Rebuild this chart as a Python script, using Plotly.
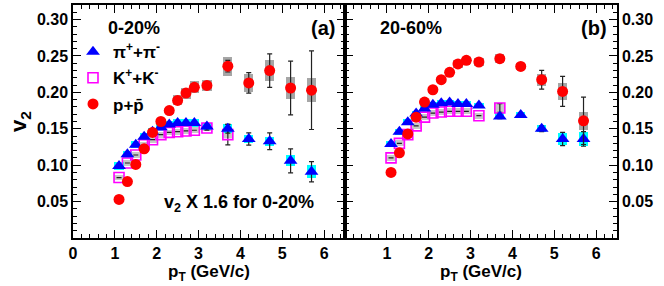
import plotly.graph_objects as go

pt = [1.1, 1.3, 1.5, 1.7, 1.9, 2.1, 2.3, 2.5, 2.7, 2.9, 3.2, 3.7, 4.2, 4.7, 5.2, 5.7]
pt_k = [1.1, 1.3, 1.5, 1.7, 1.9, 2.1, 2.3, 2.5, 2.7, 2.9, 3.2, 3.7]

# 0-20% (v2 x 1.6)
pi_c = [0.099, 0.115, 0.128, 0.139, 0.146, 0.152, 0.156, 0.158, 0.158, 0.158, 0.153, 0.150, 0.136, 0.133, 0.106, 0.091]
pi_c_err = [0.002, 0.002, 0.002, 0.002, 0.002, 0.002, 0.002, 0.002, 0.002, 0.002, 0.003, 0.006, 0.0085, 0.0115, 0.0165, 0.014]
pi_c_sys = [0.005, 0.005, 0.005, 0.005, 0.005, 0.005, 0.005, 0.005, 0.005, 0.005, 0.005, 0.006, 0.005, 0.006, 0.0076, 0.0087]
k_c = [0.083, 0.103, 0.114, 0.128, 0.135, 0.142, 0.145, 0.146, 0.147, 0.148, 0.151, 0.142]
k_c_err = [0, 0, 0, 0, 0, 0, 0, 0, 0, 0, 0.003, 0.014]
k_c_sys = [0.004, 0.004, 0.004, 0.004, 0.004, 0.004, 0.004, 0.004, 0.004, 0.004, 0.004, 0.005]
p_c = [0.053, 0.0775, 0.101, 0.1225, 0.145, 0.160, 0.175, 0.189, 0.199, 0.207, 0.2096, 0.236, 0.213, 0.230, 0.206, 0.203]
p_c_err = [0.002, 0.002, 0.002, 0.002, 0.002, 0.002, 0.002, 0.003, 0.003, 0.003, 0.004, 0.008, 0.014, 0.023, 0.037, 0.054]
p_c_sys = [0.003, 0.003, 0.003, 0.004, 0.004, 0.004, 0.005, 0.007, 0.0075, 0.008, 0.008, 0.013, 0.0125, 0.014, 0.0145, 0.0165]

# 20-60%
pi_p = [0.129, 0.146, 0.159, 0.171, 0.178, 0.183, 0.185, 0.186, 0.184, 0.184, 0.182, 0.167, 0.169, 0.150, 0.136, 0.136]
pi_p_err = [0.001, 0.001, 0.001, 0.001, 0.001, 0.001, 0.001, 0.001, 0.001, 0.001, 0.002, 0.003, 0.003, 0.004, 0.009, 0.010]
pi_p_sys = [0.004, 0.004, 0.004, 0.004, 0.004, 0.004, 0.004, 0.004, 0.004, 0.004, 0.004, 0.004, 0.004, 0.005, 0.008, 0.009]
k_p = [0.110, 0.130, 0.142, 0.154, 0.166, 0.1716, 0.173, 0.174, 0.174, 0.174, 0.168, 0.1785]
k_p_err = [0, 0, 0, 0, 0, 0, 0, 0, 0, 0, 0, 0.006]
k_p_sys = [0.004, 0.004, 0.004, 0.004, 0.004, 0.004, 0.004, 0.004, 0.004, 0.004, 0.004, 0.007]
p_p = [0.090, 0.117, 0.143, 0.166, 0.1867, 0.2036, 0.2174, 0.2275, 0.239, 0.244, 0.2417, 0.2463, 0.2357, 0.2174, 0.2013, 0.161]
p_p_err = [0.001, 0.001, 0.001, 0.001, 0.001, 0.001, 0.001, 0.002, 0.002, 0.002, 0.002, 0.004, 0.004, 0.0128, 0.0206, 0.0326]
p_p_sys = [0.003, 0.003, 0.003, 0.003, 0.004, 0.004, 0.004, 0.005, 0.005, 0.005, 0.005, 0.006, 0.005, 0.008, 0.012, 0.012]

x_ticks_left = [0, 1, 2, 3, 4, 5, 6]
x_ticks_right = [1, 2, 3, 4, 5, 6]
y_ticks = [0.05, 0.10, 0.15, 0.20, 0.25, 0.30]
y_labels = ["0.05", "0.10", "0.15", "0.20", "0.25", "0.30"]

FONT = "Liberation Sans, Arial, sans-serif"
BOXW = 0.22

fig = go.Figure()


def sys_boxes(x, v, s, color, xa, ya, group):
    fig.add_trace(go.Bar(
        x=x, y=[2 * e for e in s], base=[a - e for a, e in zip(v, s)], width=BOXW,
        marker=dict(color=color, line=dict(width=0)), xaxis=xa, yaxis=ya,
        showlegend=False, legendgroup=group, hoverinfo="skip"))


def points(x, v, err, name, marker, xa, ya, group, show):
    fig.add_trace(go.Scatter(
        x=x, y=v, mode="markers", name=name, legendgroup=group, showlegend=show,
        marker=marker, xaxis=xa, yaxis=ya,
        error_y=dict(type="data", array=err, color="#222222", thickness=1.2, width=2.5)))


m_pi = dict(symbol="triangle-up", size=12, color="#0000ff", line=dict(width=0))
m_k = dict(symbol="square-open", size=10, color="#ff00ff", line=dict(width=1.6, color="#ff00ff"))
m_p = dict(symbol="circle", size=11, color="#ff0000", line=dict(width=0))

for xa, ya, pic, pie, pis, kc, ke, ks, pc, pe, ps in [
    ("x", "y", pi_c, pi_c_err, pi_c_sys, k_c, k_c_err, k_c_sys, p_c, p_c_err, p_c_sys),
    ("x2", "y2", pi_p, pi_p_err, pi_p_sys, k_p, k_p_err, k_p_sys, p_p, p_p_err, p_p_sys),
]:
    sys_boxes(pt_k, kc, ks, "#c8c8c8", xa, ya, "k")
    points(pt_k, kc, ke, "K<sup>+</sup>+K<sup>-</sup>", m_k, xa, ya, "k", False)
    sys_boxes(pt, pic, pis, "#00ffff", xa, ya, "pi")
    points(pt, pic, pie, "π<sup>+</sup>+π<sup>-</sup>", m_pi, xa, ya, "pi", False)
    sys_boxes(pt, pc, ps, "#a6a6a6", xa, ya, "p")
    points(pt, pc, pe, "p+p\u0304", m_p, xa, ya, "p", False)

# legend entries in the reference order
for name, mk, grp in [("π<sup>+</sup>+π<sup>-</sup>", m_pi, "pi"),
                      ("K<sup>+</sup>+K<sup>-</sup>", m_k, "k"),
                      ("p+p\u0304", m_p, "p")]:
    fig.add_trace(go.Scatter(x=[None], y=[None], mode="markers", name=name, marker=mk,
                             legendgroup=grp + "L", showlegend=True, xaxis="x", yaxis="y"))

tickfont = dict(family=FONT, size=16, color="black", weight="bold")
title_font = dict(family=FONT, size=17, color="black", weight="bold")
common_x = dict(range=[0, 6.5], ticks="inside", ticklen=8, tickwidth=1, tickcolor="black",
                showline=True, linecolor="black", linewidth=1.5, mirror="ticks",
                showgrid=False, zeroline=False, tickfont=tickfont, tickmode="array",
                automargin=False,
                minor=dict(ticks="inside", ticklen=4, dtick=0.2, tick0=0, tickcolor="black", showgrid=False),
                title=dict(text="p<sub>T</sub> (GeV/c)", font=title_font, standoff=1))
common_y = dict(range=[0, 0.32], ticks="inside", ticklen=8, tickwidth=1, tickcolor="black",
                showline=True, linecolor="black", linewidth=1.5, mirror="ticks",
                showgrid=False, zeroline=False, tickfont=tickfont, tickmode="array",
                tickvals=y_ticks, ticktext=y_labels, automargin=False,
                minor=dict(ticks="inside", ticklen=4, dtick=0.01, tick0=0, tickcolor="black", showgrid=False))

fig.update_layout(
    width=664, height=286,
    margin=dict(l=73, r=47, t=5, b=48),
    paper_bgcolor="white", plot_bgcolor="white",
    barmode="overlay", bargap=0,
    xaxis=dict(domain=[0, 0.5], anchor="y", tickvals=x_ticks_left, **common_x),
    xaxis2=dict(domain=[0.5, 1], anchor="y2", tickvals=x_ticks_right, **common_x),
    yaxis=dict(domain=[0, 1], anchor="x",
               title=dict(text="v<sub>2</sub>", font=dict(family=FONT, size=22, color="black", weight="bold"), standoff=4),
               **common_y),
    yaxis2=dict(domain=[0, 1], anchor="x2", side="right", **common_y),
    showlegend=True,
    legend=dict(x=0.0, y=0.875, xanchor="left", yanchor="top", bgcolor="rgba(0,0,0,0)",
                font=dict(family=FONT, size=17, color="black", weight="bold"),
                tracegroupgap=1, itemsizing="trace"),
    font=dict(family=FONT, color="black"),
)

ann_font = dict(family=FONT, size=18, color="black", weight="bold")
lab_font = dict(family=FONT, size=20, color="black", weight="bold")
fig.add_annotation(text="0-20%", x=0.79, y=0.289, xref="x", yref="y", showarrow=False, font=ann_font, xanchor="left")
fig.add_annotation(text="(a)", x=6.3, y=0.289, xref="x", yref="y", showarrow=False, font=lab_font, xanchor="right")
fig.add_annotation(text="20-60%", x=0.8, y=0.289, xref="x2", yref="y2", showarrow=False, font=ann_font, xanchor="left")
fig.add_annotation(text="(b)", x=6.3, y=0.289, xref="x2", yref="y2", showarrow=False, font=lab_font, xanchor="right")
fig.add_annotation(text="v<sub>2</sub> X 1.6 for 0-20%", x=2.13, y=0.048, xref="x", yref="y", showarrow=False, font=ann_font, xanchor="left")

fig.write_html("out.html", config={"displayModeBar": False},
               post_script="document.body.style.margin='0';document.body.style.padding='0';")
